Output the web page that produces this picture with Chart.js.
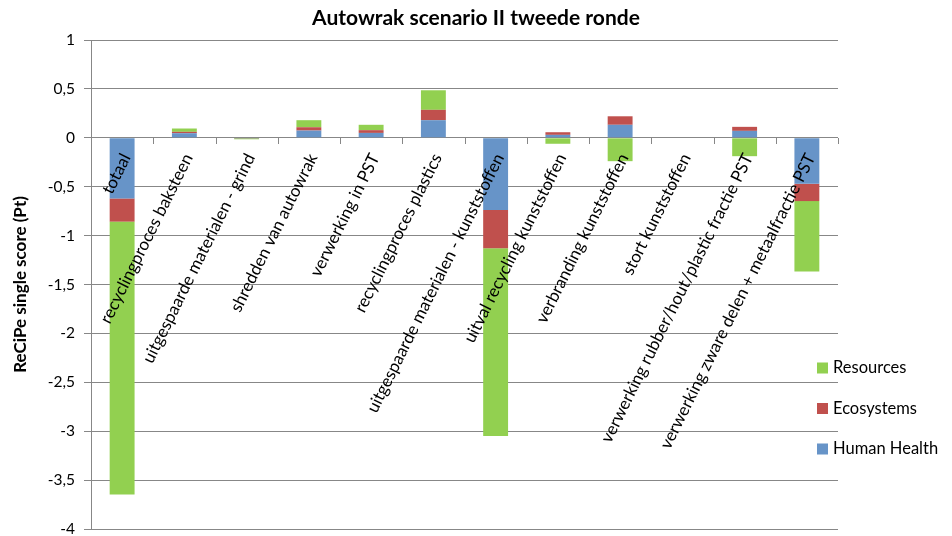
<!DOCTYPE html>
<html>
<head>
<meta charset="utf-8">
<script src="https://cdn.jsdelivr.net/npm/chart.js@4.4.1/dist/chart.umd.min.js"></script>
<style>
  html, body { margin: 0; padding: 0; background: #ffffff; }
  #wrap { width: 952px; height: 536px; position: relative; }
</style>
</head>
<body>
<div id="wrap"><canvas id="chart" width="952" height="536"></canvas></div>
<script>
// Process steps of the car-wreck scenario (ReCiPe single score, Pt)
const categories = [
  'totaal',
  'recyclingproces baksteen',
  'uitgespaarde materialen - grind',
  'shredden van autowrak',
  'verwerking in PST',
  'recyclingproces plastics',
  'uitgespaarde materialen - kunststoffen',
  'uitval recycling kunststoffen',
  'verbranding kunststoffen',
  'stort kunststoffen',
  'verwerking rubber/hout/plastic fractie PST',
  'verwerking zware delen + metaalfractie PST'
];

const humanHealth = [-0.62, 0.047, -0.003, 0.074, 0.05, 0.18, -0.739, 0.03, 0.133, 0, 0.071, -0.47];
const ecosystems  = [-0.237, 0.014, -0.002, 0.034, 0.028, 0.106, -0.391, 0.027, 0.087, 0, 0.041, -0.177];
const resources   = [-2.79, 0.034, -0.01, 0.072, 0.055, 0.2, -1.92, -0.061, -0.239, 0, -0.188, -0.72];

const yTicks = [1, 0.5, 0, -0.5, -1, -1.5, -2, -2.5, -3, -3.5, -4];

const seriesNames = ['Human Health', 'Ecosystems', 'Resources'];
const seriesColors = ['#6794C8', '#C0504D', '#92D050'];

const FONT = 'Lato, "Open Sans", "Liberation Sans", sans-serif';
const GRID = '#878787';

// Title, axis title, legend, rotated category labels and category ticks
const decorations = {
  id: 'decorations',
  afterDraw(chart) {
    const ctx = chart.ctx;
    const area = chart.chartArea;
    const x = chart.scales.x;
    const y = chart.scales.y;
    const y0 = y.getPixelForValue(0);

    ctx.save();
    // title
    ctx.fillStyle = '#000';
    ctx.font = 'bold 21px ' + FONT;
    ctx.textAlign = 'center';
    ctx.textBaseline = 'middle';
    ctx.fillText('Autowrak scenario II tweede ronde', 476, 18);

    // y-axis title
    ctx.save();
    ctx.translate(21, (area.top + area.bottom) / 2);
    ctx.rotate(-Math.PI / 2);
    ctx.font = 'bold 17px ' + FONT;
    ctx.fillText('ReCiPe single score (Pt)', 0, 0);
    ctx.restore();

    // category tick marks on the zero line
    ctx.strokeStyle = GRID;
    ctx.lineWidth = 1;
    const n = categories.length;
    const step = (area.right - area.left) / n;
    ctx.beginPath();
    for (let i = 0; i <= n; i++) {
      const px = Math.round(area.left + step * i) + 0.5;
      ctx.moveTo(px, Math.round(y0));
      ctx.lineTo(px, Math.round(y0) + 6);
    }
    ctx.stroke();

    // rotated category labels hanging below the zero line
    ctx.font = '17px ' + FONT;
    ctx.fillStyle = '#000';
    ctx.textAlign = 'right';
    ctx.textBaseline = 'middle';
    const ang = -63.5 * Math.PI / 180;
    categories.forEach((label, i) => {
      const cx = x.getPixelForValue(i);
      ctx.save();
      ctx.translate(cx + 4, y0 + 17);
      ctx.rotate(ang);
      ctx.fillText(label, 0, 0);
      ctx.restore();
    });

    // legend (reverse order)
    const legendY = [368, 408.5, 449];
    ctx.font = '16.5px ' + FONT;
    ctx.textAlign = 'left';
    for (let k = 0; k < 3; k++) {
      const s = 2 - k;
      ctx.fillStyle = seriesColors[s];
      ctx.fillRect(817, legendY[k] - 5.5, 11, 11);
      ctx.fillStyle = '#000';
      ctx.fillText(seriesNames[s], 833, legendY[k]);
    }
    ctx.restore();
  }
};

const data = {
  labels: categories,
  datasets: [humanHealth, ecosystems, resources].map((vals, i) => ({
    label: seriesNames[i],
    data: vals,
    backgroundColor: seriesColors[i],
    borderWidth: 0,
    categoryPercentage: 1,
    barPercentage: 0.4
  }))
};

new Chart(document.getElementById('chart'), {
  type: 'bar',
  data: data,
  options: {
    responsive: false,
    animation: false,
    devicePixelRatio: 1,
    layout: { padding: { left: 0, right: 114, top: 40, bottom: 7 } },
    plugins: {
      legend: { display: false },
      title: { display: false },
      tooltip: { enabled: false }
    },
    scales: {
      x: {
        stacked: true,
        display: false
      },
      y: {
        stacked: true,
        min: -4,
        max: 1,
        afterFit(scale) {
          scale.width = 91;
          scale.paddingTop = 0;
          scale.paddingBottom = 0;
        },
        afterBuildTicks(scale) { scale.ticks = yTicks.map(v => ({ value: v })); },
        border: { display: true, color: GRID, width: 1 },
        grid: { color: GRID, lineWidth: 1, tickLength: 7, drawTicks: true },
        ticks: {
          color: '#000',
          padding: 9,
          font: { family: FONT, size: 15.5 },
          callback: v => String(v).replace('.', ',')
        }
      }
    }
  },
  plugins: [decorations]
});
</script>
</body>
</html>
